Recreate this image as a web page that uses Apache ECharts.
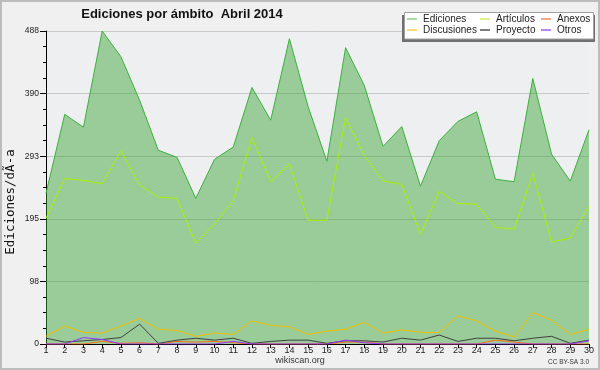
<!DOCTYPE html>
<html><head><meta charset="utf-8">
<script src="https://cdn.jsdelivr.net/npm/echarts@6/dist/echarts.min.js"></script>
<style>
html,body{margin:0;padding:0;background:#f0f0f0;}
#wrap{width:600px;height:370px;box-sizing:border-box;border:2px solid #bcbcbc;position:relative;background:#f0f0f0;}
#c{position:absolute;left:-2px;top:-2px;width:600px;height:370px;}
</style></head>
<body><div id="wrap"><div id="c"></div></div>
<script>
const days = ['1','2','3','4','5','6','7','8','9','10','11','12','13','14','15','16','17','18','19','20','21','22','23','24','25','26','27','28','29','30'];
const ediciones   = [235,358,338,488,448,380,302,291,227,288,307,400,349,476,370,285,462,403,308,339,246,317,347,362,257,253,414,296,254,334];
const articulos   = [196,258,255,250,301,248,229,227,157,187,224,322,253,281,193,193,353,294,254,249,171,238,219,218,182,179,266,159,165,215];
const anexos      = [0,0,0,4,1,2,0,4,3,4,2,0,0,0,0,0,3,3,0,0,0,0,0,0,6,3,0,0,0,0];
const discusiones = [12,28,18,17,28,40,23,21,12,17,15,36,29,27,15,20,23,34,17,22,18,18,44,36,20,11,49,37,15,23];
const proyecto    = [9,3,5,7,10,31,1,6,9,6,9,1,4,6,6,1,5,5,3,9,6,14,4,9,9,5,9,12,1,6];
const otros       = [0,0,10,7,0,0,0,0,0,0,4,0,0,0,0,0,6,2,0,0,0,0,0,0,0,0,0,0,0,5];
const yTicks = ['0','98','195','293','390','488'];
const seriesNames = ['Ediciones','Artículos','Anexos','Discusiones','Proyecto','Otros'];

const chart = echarts.init(document.getElementById('c'), null, {renderer:'canvas'});
function line(name, data, color, extra) {
  return Object.assign({name, type:'line', data, symbol:'none', animation:false,
    lineStyle:{color, width:1}, itemStyle:{color}}, extra||{});
}
const legBase = {orient:'vertical', top:14, padding:0, itemWidth:10, itemHeight:1.5, itemGap:1, icon:'rect',
  selectedMode:false, z:10,
  textStyle:{fontFamily:'Liberation Sans', fontSize:10, color:'#222', lineHeight:9, padding:[0,0,0,1]}};
chart.setOption({
  backgroundColor:'transparent',
  animation:false,
  grid:{left:46, right:11, top:31, bottom:26, show:true, backgroundColor:'#eeeff1', borderWidth:0},
  xAxis:{type:'category', data:days, boundaryGap:false,
    axisLine:{lineStyle:{color:'#000', width:1}},
    axisTick:{show:true, length:4, interval:0, lineStyle:{color:'#000'}},
    axisLabel:{interval:0, margin:2, color:'#222', fontFamily:'Liberation Sans', fontSize:9},
    splitLine:{show:false}},
  yAxis:{type:'value', min:0, max:488, interval:97.6,
    axisLine:{show:true, lineStyle:{color:'#000', width:1}},
    axisTick:{show:true, length:6, lineStyle:{color:'#000'}},
    minorTick:{show:true, splitNumber:4, length:3, lineStyle:{color:'#000'}},
    axisLabel:{margin:7, color:'#222', fontFamily:'Liberation Sans', fontSize:8.5,
      formatter:(v)=>{const i=Math.round(v/97.6); return yTicks[i]!==undefined?yTicks[i]:'';}},
    splitLine:{show:true, lineStyle:{color:'#c8c8c8', width:1}}},
  legend:[
    Object.assign({}, legBase, {left:407, data:[{name:'Ediciones', itemStyle:{color:'#88d088'}},{name:'Discusiones', itemStyle:{color:'#f8d048'}}]}),
    Object.assign({}, legBase, {left:480, data:[{name:'Artículos', itemStyle:{color:'#ccf060'}},{name:'Proyecto', itemStyle:{color:'#555555'}}]}),
    Object.assign({}, legBase, {left:541, data:[{name:'Anexos', itemStyle:{color:'#f08a60'}},{name:'Otros', itemStyle:{color:'#a060f0'}}]})
  ],
  graphic:[
    {type:'rect', z:3, shape:{x:402, y:15, width:193, height:27}, style:{fill:'#707070'}},
    {type:'rect', z:4, shape:{x:404.5, y:12.5, width:189, height:26.5}, style:{fill:'#ffffff', stroke:'#a0a0a0', lineWidth:1}},
    {type:'text', z:5, x:182, y:14, style:{text:'Ediciones por ámbito  Abril 2014', align:'center', verticalAlign:'middle',
      font:'bold 13px "Liberation Sans"', fill:'#111'}},
    {type:'text', z:5, x:11, y:202, rotation:Math.PI/2, style:{text:'Ediciones/dÃ-a', align:'center', verticalAlign:'middle',
      font:'12.5px "DejaVu Sans Mono"', fill:'#111'}},
    {type:'text', z:5, x:300, y:361, style:{text:'wikiscan.org', align:'center', verticalAlign:'middle',
      font:'9px "Liberation Sans"', fill:'#333'}},
    {type:'text', z:5, x:589, y:362, style:{text:'CC BY-SA 3.0', align:'right', verticalAlign:'middle',
      font:'6.5px "Liberation Sans"', fill:'#333'}}
  ],
  series:[
    line(seriesNames[0], ediciones, '#3cb03c', {areaStyle:{color:'rgb(60,166,57)', opacity:0.48}}),
    line(seriesNames[1], articulos, '#aaf000'),
    line(seriesNames[2], anexos, '#ff6a1a'),
    line(seriesNames[3], discusiones, '#f0c000'),
    line(seriesNames[4], proyecto, '#404040'),
    line(seriesNames[5], otros, '#9933ff')
  ]
});
</script></body></html>
